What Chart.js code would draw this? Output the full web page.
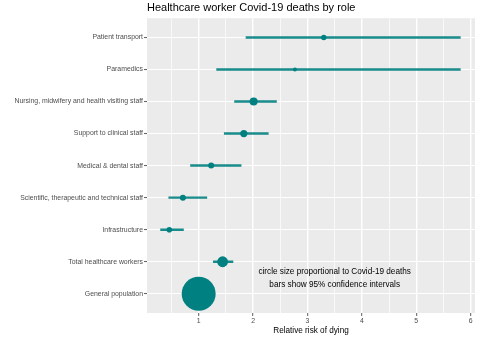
<!DOCTYPE html>
<html>
<head>
<meta charset="utf-8">
<script src="https://cdn.jsdelivr.net/npm/chart.js@4"></script>
<style>
  html, body { margin: 0; padding: 0; background: #fff; }
  #wrap { width: 480px; height: 339px; }
</style>
</head>
<body>
<div id="wrap"><canvas id="chart"></canvas></div>
<script>
// categories, top to bottom
const roles = [
    'Patient transport',
    'Paramedics',
    'Nursing, midwifery and health visiting staff',
    'Support to clinical staff',
    'Medical & dental staff',
    'Scientific, therapeutic and technical staff',
    'Infrastructure',
    'Total healthcare workers',
    'General population'
];
// relative risk and 95% CI
const relRisk = [3.30, 2.77, 2.01, 1.83, 1.23, 0.71, 0.46, 1.44, 1.00];
const ciLow   = [1.87, 1.33, 1.66, 1.47, 0.85, 0.45, 0.30, 1.27, null];
const ciHigh  = [5.81, 5.81, 2.43, 2.28, 1.78, 1.15, 0.72, 1.63, null];
// circle radius (proportional to deaths)
const circleSize = [2.7, 2, 4, 3.6, 3, 3, 2.8, 5.4, 17];
const xTicks = [0.5, 1, 1.5, 2, 2.5, 3, 3.5, 4, 4.5, 5, 5.5, 6];
const noteLines = ['circle size proportional to Covid-19 deaths', 'bars show 95% confidence intervals'];

const TEAL = '#008080';
const FONT = '"Liberation Sans", Arial, sans-serif';

const panelBg = {
    id: 'panelBg',
    beforeDraw(chart) {
        const { ctx, chartArea: a } = chart;
        ctx.save();
        ctx.fillStyle = '#EBEBEB';
        ctx.fillRect(a.left, a.top, a.right - a.left, a.bottom - a.top);
        ctx.restore();
    }
};

const notes = {
    id: 'notes',
    afterDraw(chart) {
        const { ctx, scales } = chart;
        ctx.save();
        ctx.font = '8.2px ' + FONT;
        ctx.fillStyle = '#000';
        ctx.textAlign = 'center';
        ctx.textBaseline = 'middle';
        const x = scales.x.getPixelForValue(3.5);
        ctx.fillText(noteLines[0], x, scales.y.getPixelForValue(7.3));
        ctx.fillText(noteLines[1], x, scales.y.getPixelForValue(7.72));
        ctx.restore();
    }
};

const ciData = [];
roles.forEach((r, i) => {
    if (ciLow[i] !== null) ciData.push({ x: [ciLow[i], ciHigh[i]], y: i });
});
const pointData = roles.map((r, i) => ({ x: relRisk[i], y: i, r: circleSize[i] }));

new Chart(document.getElementById('chart'), {
    type: 'bar',
    data: {
        datasets: [{
            type: 'bubble',
            data: pointData,
            backgroundColor: TEAL,
            borderColor: TEAL,
            borderWidth: 0,
            clip: false,
            order: 0
        }, {
            type: 'bar',
            data: ciData,
            backgroundColor: 'rgba(0, 128, 128, 0.9)',
            borderWidth: 0,
            barThickness: 1.8,
            order: 1
        }]
    },
    options: {
        indexAxis: 'y',
        responsive: true,
        maintainAspectRatio: false,
        animation: false,
        layout: { autoPadding: false, padding: { left: 0, right: 5, top: 0, bottom: 0 } },
        plugins: {
            legend: { display: false },
            tooltip: { enabled: false },
            title: {
                display: true,
                text: 'Healthcare worker Covid-19 deaths by role',
                align: 'start',
                fullSize: false,
                color: '#000',
                font: { family: FONT, size: 11, weight: 'normal' },
                padding: { top: 1, bottom: 4 }
            }
        },
        scales: {
            x: {
                type: 'linear',
                min: 0.05,
                max: 6.08,
                offset: false,
                afterBuildTicks: s => { s.ticks = xTicks.map(v => ({ value: v })); },
                afterFit: s => { s.height = 26; },
                border: { display: false },
                grid: {
                    offset: false,
                    color: '#FFFFFF',
                    lineWidth: c => Number.isInteger(c.tick.value) ? 1.4 : 0.7,
                    tickColor: c => Number.isInteger(c.tick.value) ? '#333333' : 'rgba(0,0,0,0)',
                    tickLength: 3,
                    tickWidth: 0.8
                },
                ticks: {
                    autoSkip: false,
                    maxRotation: 0,
                    padding: 1,
                    color: '#4D4D4D',
                    font: { family: FONT, size: 6.9 },
                    callback: v => Number.isInteger(v) ? String(v) : ''
                },
                title: {
                    display: true,
                    text: 'Relative risk of dying',
                    color: '#000',
                    font: { family: FONT, size: 8.2 },
                    padding: { top: 0, bottom: 3 }
                }
            },
            y: {
                type: 'linear',
                reverse: true,
                min: -0.6,
                max: 8.6,
                offset: false,
                afterBuildTicks: s => { s.ticks = roles.map((r, i) => ({ value: i })); },
                afterFit: s => { s.width = 147; },
                border: { display: false },
                grid: {
                    offset: false,
                    color: '#FFFFFF',
                    lineWidth: 1.1,
                    tickColor: '#333333',
                    tickLength: 3,
                    tickWidth: 0.8
                },
                ticks: {
                    autoSkip: false,
                    padding: 1,
                    color: '#4D4D4D',
                    font: { family: FONT, size: 6.9 },
                    callback: v => roles[v]
                }
            }
        }
    },
    plugins: [panelBg, notes]
});
</script>
</body>
</html>
